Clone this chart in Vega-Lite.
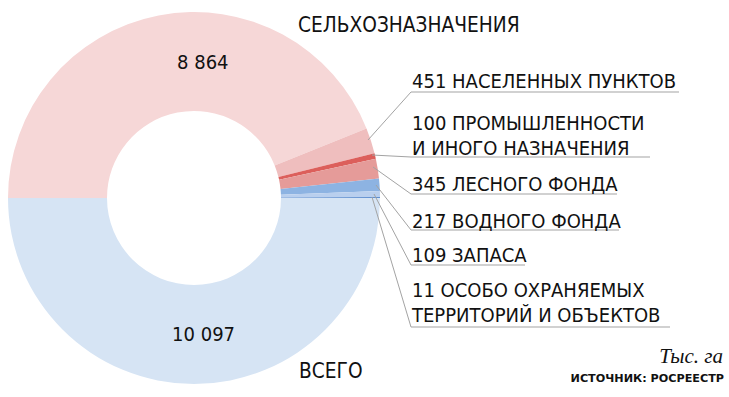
{
  "$schema": "https://vega.github.io/schema/vega-lite/v6.json",
  "width": 729,
  "height": 397,
  "autosize": {"type": "none"},
  "padding": 0,
  "background": "white",
  "config": {
    "view": {"stroke": null},
    "locale": {"number": {"decimal": ",", "thousands": " ", "grouping": [3], "currency": ["", " ₽"]}}
  },
  "datasets": {
    "land": [
      {"cat": "СЕЛЬХОЗНАЗНАЧЕНИЯ", "value": 8864, "ord": 1},
      {"cat": "НАСЕЛЕННЫХ ПУНКТОВ", "value": 451, "ord": 2},
      {"cat": "ПРОМЫШЛЕННОСТИ И ИНОГО НАЗНАЧЕНИЯ", "value": 100, "ord": 3},
      {"cat": "ЛЕСНОГО ФОНДА", "value": 345, "ord": 4},
      {"cat": "ВОДНОГО ФОНДА", "value": 217, "ord": 5},
      {"cat": "ЗАПАСА", "value": 109, "ord": 6},
      {"cat": "ОСОБО ОХРАНЯЕМЫХ ТЕРРИТОРИЙ И ОБЪЕКТОВ", "value": 11, "ord": 7},
      {"cat": "ВСЕГО", "value": 10097, "ord": 8}
    ],
    "callouts": [
      {"cat": "НАСЕЛЕННЫХ ПУНКТОВ", "lines": ["451 НАСЕЛЕННЫХ ПУНКТОВ"], "bx": 412, "by": 88},
      {"cat": "ПРОМЫШЛЕННОСТИ И ИНОГО НАЗНАЧЕНИЯ", "lines": ["100 ПРОМЫШЛЕННОСТИ", "И ИНОГО НАЗНАЧЕНИЯ"], "bx": 412, "by": 130},
      {"cat": "ЛЕСНОГО ФОНДА", "lines": ["345 ЛЕСНОГО ФОНДА"], "bx": 412, "by": 191},
      {"cat": "ВОДНОГО ФОНДА", "lines": ["217 ВОДНОГО ФОНДА"], "bx": 412, "by": 228},
      {"cat": "ЗАПАСА", "lines": ["109 ЗАПАСА"], "bx": 412, "by": 262},
      {"cat": "ОСОБО ОХРАНЯЕМЫХ ТЕРРИТОРИЙ И ОБЪЕКТОВ", "lines": ["11 ОСОБО ОХРАНЯЕМЫХ", "ТЕРРИТОРИЙ И ОБЪЕКТОВ"], "bx": 412, "by": 297}
    ],
    "leaders": [
      {"cat": "a", "pt": 1, "lx": 368, "ly": 140}, {"cat": "a", "pt": 2, "lx": 411, "ly": 92}, {"cat": "a", "pt": 3, "lx": 679, "ly": 92},
      {"cat": "b", "pt": 1, "lx": 372, "ly": 155}, {"cat": "b", "pt": 2, "lx": 411, "ly": 157}, {"cat": "b", "pt": 3, "lx": 650, "ly": 157},
      {"cat": "c", "pt": 1, "lx": 373, "ly": 167}, {"cat": "c", "pt": 2, "lx": 411, "ly": 194}, {"cat": "c", "pt": 3, "lx": 617, "ly": 194},
      {"cat": "d", "pt": 1, "lx": 376, "ly": 185}, {"cat": "d", "pt": 2, "lx": 411, "ly": 230}, {"cat": "d", "pt": 3, "lx": 619, "ly": 230},
      {"cat": "e", "pt": 1, "lx": 374, "ly": 194}, {"cat": "e", "pt": 2, "lx": 411, "ly": 265}, {"cat": "e", "pt": 3, "lx": 525, "ly": 265},
      {"cat": "f", "pt": 1, "lx": 372, "ly": 197}, {"cat": "f", "pt": 2, "lx": 411, "ly": 327}, {"cat": "f", "pt": 3, "lx": 670, "ly": 327}
    ]
  },
  "layer": [
    {
      "data": {"name": "land"},
      "mark": {"type": "arc", "outerRadius": 186, "innerRadius": 87, "strokeWidth": 0},
      "encoding": {
        "x": {"datum": 194, "type": "quantitative", "scale": {"domain": [0, 729], "zero": false, "nice": false}, "axis": null},
        "y": {"datum": 198, "type": "quantitative", "scale": {"domain": [0, 397], "zero": false, "nice": false, "reverse": true}, "axis": null},
        "theta": {"field": "value", "type": "quantitative", "stack": true, "scale": {"range": [-1.5707963, 4.7123890]}},
        "order": {"field": "ord", "type": "quantitative"},
        "color": {
          "field": "cat", "type": "nominal", "legend": null,
          "scale": {
            "domain": ["СЕЛЬХОЗНАЗНАЧЕНИЯ", "НАСЕЛЕННЫХ ПУНКТОВ", "ПРОМЫШЛЕННОСТИ И ИНОГО НАЗНАЧЕНИЯ", "ЛЕСНОГО ФОНДА", "ВОДНОГО ФОНДА", "ЗАПАСА", "ОСОБО ОХРАНЯЕМЫХ ТЕРРИТОРИЙ И ОБЪЕКТОВ", "ВСЕГО"],
            "range": ["#f6d7d7", "#efbebe", "#dc5f5b", "#e59b99", "#8db3e2", "#b9cfee", "#2e6cc0", "#d6e4f4"]
          }
        }
      }
    },
    {
      "data": {"name": "land"},
      "mark": {"type": "text", "radius": 135, "thetaOffset": 0.257, "font": "'DejaVu Sans Condensed', Roboto, sans-serif", "fontSize": 20, "color": "#111111", "baseline": "middle", "align": "center"},
      "encoding": {
        "x": {"datum": 194, "type": "quantitative", "scale": {"domain": [0, 729], "zero": false, "nice": false}, "axis": null},
        "y": {"datum": 198, "type": "quantitative", "scale": {"domain": [0, 397], "zero": false, "nice": false, "reverse": true}, "axis": null},
        "theta": {"field": "value", "type": "quantitative", "stack": true, "scale": {"range": [-1.5707963, 4.7123890]}},
        "order": {"field": "ord", "type": "quantitative"},
        "text": {"condition": {"test": "datum.cat === 'СЕЛЬХОЗНАЗНАЧЕНИЯ'", "field": "value", "format": ",d"}, "value": ""}
      }
    },
    {
      "data": {"name": "land"},
      "mark": {"type": "text", "radius": 137, "thetaOffset": -0.07, "font": "'DejaVu Sans Condensed', Roboto, sans-serif", "fontSize": 20, "color": "#111111", "baseline": "middle", "align": "center"},
      "encoding": {
        "x": {"datum": 194, "type": "quantitative", "scale": {"domain": [0, 729], "zero": false, "nice": false}, "axis": null},
        "y": {"datum": 198, "type": "quantitative", "scale": {"domain": [0, 397], "zero": false, "nice": false, "reverse": true}, "axis": null},
        "theta": {"field": "value", "type": "quantitative", "stack": true, "scale": {"range": [-1.5707963, 4.7123890]}},
        "order": {"field": "ord", "type": "quantitative"},
        "text": {"condition": {"test": "datum.cat === 'ВСЕГО'", "field": "value", "format": ",d"}, "value": ""}
      }
    },
    {
      "data": {"name": "leaders"},
      "mark": {"type": "line", "color": "#a3a3a3", "strokeWidth": 1},
      "encoding": {
        "x": {"field": "lx", "type": "quantitative", "scale": {"domain": [0, 729], "zero": false, "nice": false}, "axis": null},
        "y": {"field": "ly", "type": "quantitative", "scale": {"domain": [0, 397], "zero": false, "nice": false, "reverse": true}, "axis": null},
        "detail": {"field": "cat", "type": "nominal"},
        "order": {"field": "pt", "type": "quantitative"}
      }
    },
    {
      "data": {"name": "callouts"},
      "mark": {"type": "text", "align": "left", "baseline": "alphabetic", "font": "'DejaVu Sans Condensed', Roboto, sans-serif", "fontSize": 20, "lineHeight": 24.5, "color": "#111111"},
      "encoding": {
        "x": {"field": "bx", "type": "quantitative", "scale": {"domain": [0, 729], "zero": false, "nice": false}, "axis": null},
        "y": {"field": "by", "type": "quantitative", "scale": {"domain": [0, 397], "zero": false, "nice": false, "reverse": true}, "axis": null},
        "text": {"field": "lines"}
      }
    },
    {
      "data": {"values": [{"name": "СЕЛЬХОЗНАЗНАЧЕНИЯ", "px": 298, "py": 32}, {"name": "ВСЕГО", "px": 299, "py": 378}]},
      "mark": {"type": "text", "align": "left", "baseline": "alphabetic", "font": "'DejaVu Sans Condensed', Roboto, sans-serif", "fontSize": 20.7, "color": "#111111"},
      "encoding": {
        "x": {"field": "px", "type": "quantitative", "scale": {"domain": [0, 729], "zero": false, "nice": false}, "axis": null},
        "y": {"field": "py", "type": "quantitative", "scale": {"domain": [0, 397], "zero": false, "nice": false, "reverse": true}, "axis": null},
        "text": {"field": "name"}
      }
    },
    {
      "data": {"values": [{"note": "Тыс. га", "px": 723, "py": 363}]},
      "mark": {"type": "text", "align": "right", "baseline": "alphabetic", "font": "'Liberation Serif', serif", "fontStyle": "italic", "fontSize": 21, "color": "#111111"},
      "encoding": {
        "x": {"field": "px", "type": "quantitative", "scale": {"domain": [0, 729], "zero": false, "nice": false}, "axis": null},
        "y": {"field": "py", "type": "quantitative", "scale": {"domain": [0, 397], "zero": false, "nice": false, "reverse": true}, "axis": null},
        "text": {"field": "note"}
      }
    },
    {
      "data": {"values": [{"note": "ИСТОЧНИК: РОСРЕЕСТР", "px": 724, "py": 382}]},
      "mark": {"type": "text", "align": "right", "baseline": "alphabetic", "font": "'DejaVu Sans', sans-serif", "fontWeight": "bold", "fontSize": 11.2, "color": "#111111"},
      "encoding": {
        "x": {"field": "px", "type": "quantitative", "scale": {"domain": [0, 729], "zero": false, "nice": false}, "axis": null},
        "y": {"field": "py", "type": "quantitative", "scale": {"domain": [0, 397], "zero": false, "nice": false, "reverse": true}, "axis": null},
        "text": {"field": "note"}
      }
    }
  ]
}
